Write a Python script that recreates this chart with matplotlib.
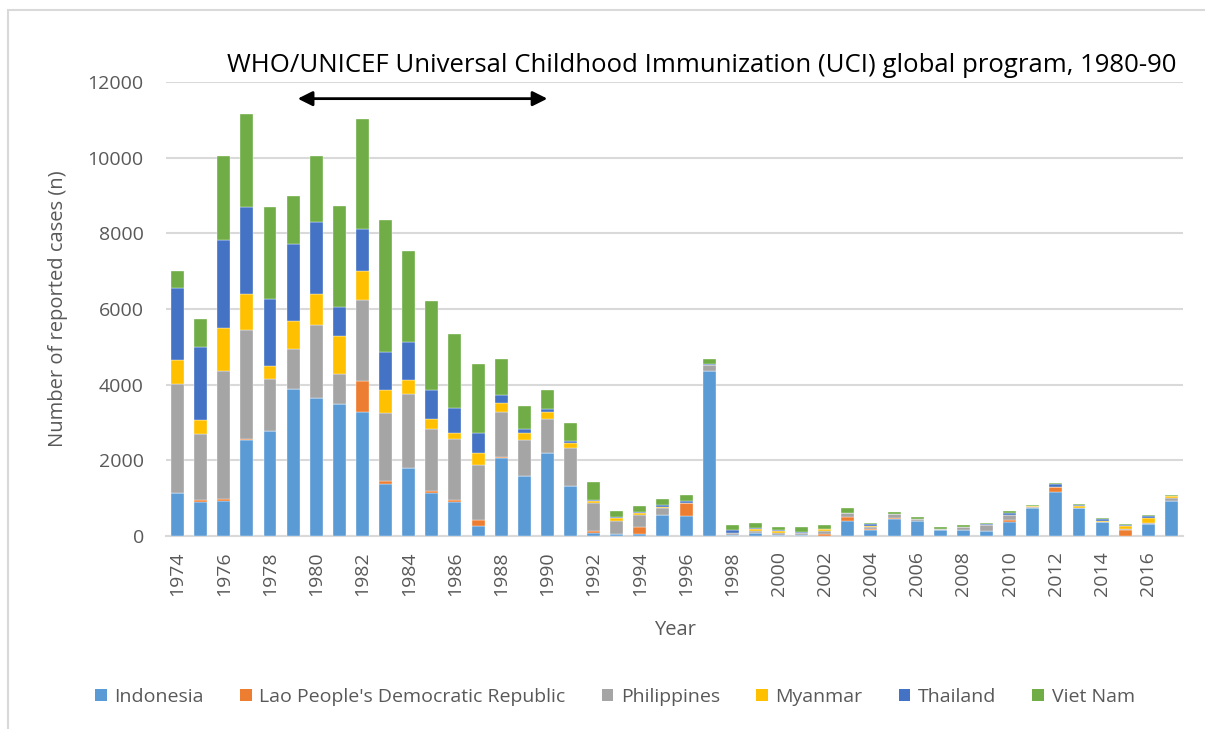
import matplotlib
matplotlib.use("Agg")
import matplotlib.pyplot as plt
from matplotlib.patches import Patch, Rectangle
import numpy as np

plt.rcParams['font.family'] = ['Open Sans', 'DejaVu Sans']

years = list(range(1974, 2018))

indonesia = [1143, 906, 932, 2533, 2770, 3879, 3650, 3483, 3280, 1381,
             1785, 1126, 906, 264, 2049, 1583, 2199, 1319, 88, 44,
             44, 563, 528, 4354, 26, 88, 30, 20, 0, 396,
             158, 449, 396, 158, 167, 141, 378, 748, 1161, 748,
             369, 10, 317, 915]
lao = [0, 44, 44, 35, 0, 0, 0, 0, 810, 70,
       25, 52, 44, 167, 44, 0, 0, 0, 53, 0,
       185, 0, 343, 0, 0, 0, 0, 0, 44, 105,
       35, 35, 0, 0, 0, 0, 44, 0, 123, 0,
       0, 148, 0, 0]
philippines = [2885, 1741, 3377, 2876, 1381, 1055, 1926, 809, 2137, 1794,
               1937, 1663, 1609, 1451, 1187, 950, 906, 1012, 721, 352,
               334, 167, 8, 167, 62, 53, 58, 68, 79, 97,
               53, 96, 61, 35, 79, 149, 123, 10, 0, 0,
               0, 26, 26, 79]
myanmar = [633, 378, 1153, 941, 343, 748, 809, 985, 774, 607,
           369, 255, 176, 299, 238, 193, 175, 114, 61, 70,
           44, 35, 0, 0, 0, 44, 53, 0, 62, 0,
           10, 0, 0, 0, 0, 0, 0, 34, 0, 35,
           36, 71, 132, 53]
thailand = [1900, 1927, 2330, 2304, 1759, 2031, 1926, 774, 1108, 1012,
            1011, 756, 642, 554, 202, 115, 71, 62, 27, 35,
            35, 44, 53, 36, 70, 35, 10, 15, 10, 10,
            52, 0, 0, 0, 0, 35, 71, 0, 79, 26,
            35, 35, 44, 0]
viet_nam = [440, 747, 2199, 2472, 2436, 1275, 1724, 2665, 2911, 3482,
            2401, 2366, 1962, 1821, 968, 598, 501, 492, 484, 167,
            158, 158, 141, 133, 141, 114, 88, 126, 104, 131,
            26, 53, 44, 36, 35, 27, 44, 35, 44, 44,
            44, 35, 44, 44]

series = [("Indonesia", indonesia, "#5B9BD5"),
          ("Lao People's Democratic Republic", lao, "#ED7D31"),
          ("Philippines", philippines, "#A5A5A5"),
          ("Myanmar", myanmar, "#FFC000"),
          ("Thailand", thailand, "#4472C4"),
          ("Viet Nam", viet_nam, "#70AD47")]

fig = plt.figure(figsize=(12.05, 7.29), dpi=100)
ax = fig.add_axes([166/1205, 1-536/729, (1183-166)/1205, (536-82)/729])

bottom = np.zeros(len(years))
for name, vals, col in series:
    ax.bar(years, vals, width=0.56, bottom=bottom, color=col,
           edgecolor='white', linewidth=0.25, label=name, zorder=3)
    bottom += np.array(vals)

ax.set_xlim(1973.5, 2017.5)
ax.set_ylim(0, 12000)
ax.set_yticks(range(0, 12001, 2000))
ax.set_xticks(years[::2])
ax.set_xticklabels([str(y) for y in years[::2]], rotation=90)
ax.grid(axis='y', color='#D9D9D9', linewidth=1.5, zorder=0)
for s in ['top', 'right', 'left']:
    ax.spines[s].set_visible(False)
ax.spines['bottom'].set_color('#D9D9D9')
ax.spines['bottom'].set_linewidth(1.5)
ax.tick_params(axis='both', length=0, labelsize=14, colors='#595959')
ax.tick_params(axis='x', pad=11)
ax.tick_params(axis='y', pad=16)

ax.set_xlabel("Year", fontsize=14.5, color='#595959', labelpad=17)
ax.set_ylabel("Number of reported cases (n)", fontsize=14.5, color='#595959', labelpad=14)

# UCI program period
ax.annotate("", xy=(1990.0, 11560), xytext=(1979.2, 11560),
            arrowprops=dict(arrowstyle='<|-|>', color='black', lw=2,
                            mutation_scale=22, shrinkA=0, shrinkB=0),
            annotation_clip=False)
ax.text(1996.7, 12430, "WHO/UNICEF Universal Childhood Immunization (UCI) global program, 1980-90",
        ha='center', va='center', fontsize=18.5, color='black', clip_on=False)

handles = [Patch(facecolor=c, label=n) for n, v, c in series]
leg = fig.legend(handles=handles, loc='center', ncol=6,
                 bbox_to_anchor=(615/1205, 1-697/729), frameon=False,
                 fontsize=14, handlelength=0.6, handleheight=0.6,
                 handletextpad=0.4, columnspacing=1.85)
for t in leg.get_texts():
    t.set_color('#595959')

fig.patches.append(Rectangle((8/1205, -0.1), 1.2, 1.1 - 10/729, transform=fig.transFigure,
                             fill=False, edgecolor='#D9D9D9', linewidth=1.5))

fig.savefig("out.png", dpi=100)
